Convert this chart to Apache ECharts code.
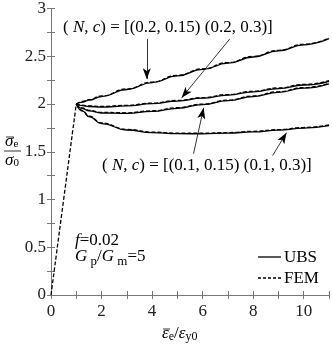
<!DOCTYPE html>
<html><head><meta charset="utf-8">
<script src="https://cdn.jsdelivr.net/npm/echarts@6/dist/echarts.min.js"></script>
<style>html,body{margin:0;padding:0;background:#fff}#c{width:332px;height:345px}</style>
</head><body><div id="c"></div>
<script>
// strain values (ε̄e/εy0)
const strainElastic = [0, 1];
const stressElastic = [0, 2.0];
const strain = [1, 1.25, 1.5, 2, 3, 4, 5, 6, 7, 8, 9, 10, 11];
// UBS (solid)
const ubsA = [2.0, 2.02, 2.04, 2.078, 2.152, 2.224, 2.294, 2.362, 2.428, 2.492, 2.556, 2.62, 2.684];
const ubsB = [2.0, 1.982, 1.974, 1.968, 1.98, 2.003, 2.031, 2.061, 2.093, 2.127, 2.162, 2.199, 2.238];
const ubsC = [2.0, 1.952, 1.928, 1.906, 1.902, 1.922, 1.955, 1.993, 2.035, 2.078, 2.122, 2.166, 2.21];
const ubsD = [2.0, 1.925, 1.868, 1.795, 1.728, 1.70, 1.689, 1.688, 1.695, 1.708, 1.726, 1.748, 1.774];
// FEM (dashed)
const femA = [2.0, 2.026, 2.046, 2.084, 2.158, 2.230, 2.300, 2.368, 2.434, 2.498, 2.562, 2.626, 2.690];
const femB = [2.0, 1.988, 1.980, 1.974, 1.986, 2.009, 2.037, 2.067, 2.099, 2.133, 2.168, 2.205, 2.244];
const femC = [2.0, 1.958, 1.934, 1.912, 1.908, 1.928, 1.961, 1.999, 2.041, 2.084, 2.128, 2.172, 2.216];
const femD = [2.0, 1.931, 1.874, 1.801, 1.734, 1.706, 1.695, 1.694, 1.701, 1.714, 1.732, 1.754, 1.780];
// arrows [xFrom, yFrom, xTo, yTo] in data units
const arrowsData = [
  [3.79, 2.68, 3.79, 2.26],
  [7.07, 2.68, 5.17, 2.065],
  [5.64, 1.48, 6.04, 1.96],
  [8.77, 1.46, 9.32, 1.70]
];
const xTicks = [0, 2, 4, 6, 8, 10];
const yTicks = [0, 0.5, 1, 1.5, 2, 2.5, 3];
const legendNames = ['UBS', 'FEM'];

const F = 'Liberation Serif';
const zip = (xs, ys) => xs.map((x, i) => [x, ys[i]]);
const solid = {color: '#000', width: 1.3, type: 'solid'};
const dashed = {color: '#000', width: 1.3, type: [4, 2]};
function mk(name, xs, ys, ls, z) {
  return {name, type: 'line', data: zip(xs, ys), symbol: 'none', smooth: 0.5, smoothMonotone: 'x',
    lineStyle: ls, itemStyle: {color: '#000'}, animation: false, z};
}
const series = [
  mk('FEM', strainElastic, stressElastic, dashed, 4),
  mk('UBS', strain, ubsA, solid, 3), mk('UBS', strain, ubsB, solid, 3),
  mk('UBS', strain, ubsC, solid, 3), mk('UBS', strain, ubsD, solid, 3),
  mk('FEM', strain, femA, dashed, 4), mk('FEM', strain, femB, dashed, 4),
  mk('FEM', strain, femC, dashed, 4), mk('FEM', strain, femD, dashed, 4),
  {type: 'line', data: [], silent: true, animation: false,
   markLine: {silent: true, symbol: ['none', 'arrow'], symbolSize: [6, 11], animation: false,
     lineStyle: {color: '#000', width: 0.8, type: 'solid'}, label: {show: false},
     data: arrowsData.map(a => [{coord: [a[0], a[1]]}, {coord: [a[2], a[3]]}])}}
];

const ax = {color: '#777', width: 1};
const it = {fontStyle: 'italic', fontFamily: F, fontSize: 17, fill: '#000'};
const chart = echarts.init(document.getElementById('c'));
chart.setOption({
  animation: false,
  grid: {left: 51, right: 2, top: 7, bottom: 50},
  xAxis: [
    {type: 'value', min: 0, max: 11, interval: 1, position: 'bottom',
     axisLine: {lineStyle: ax}, axisTick: {inside: true, length: 4, lineStyle: ax},
     splitLine: {show: false},
     axisLabel: {fontFamily: F, fontSize: 17, color: '#222', margin: 8,
       formatter: v => xTicks.includes(v) ? String(v) : ''}},
    {type: 'value', min: 0, max: 11, interval: 1, position: 'top',
     axisLine: {lineStyle: ax}, axisTick: {inside: true, length: 4, lineStyle: ax},
     splitLine: {show: false}, axisLabel: {show: false}}
  ],
  yAxis: [
    {type: 'value', min: 0, max: 3, interval: 0.25, position: 'left',
     axisLine: {lineStyle: ax}, axisTick: {inside: true, length: 4, lineStyle: ax},
     splitLine: {show: false},
     axisLabel: {fontFamily: F, fontSize: 17, color: '#222', margin: 5,
       formatter: v => yTicks.some(t => Math.abs(t - v) < 1e-9) ? String(v) : ''}},
    {type: 'value', min: 0, max: 3, interval: 0.25, position: 'right',
     axisLine: {lineStyle: ax}, axisTick: {inside: true, length: 4, lineStyle: ax},
     splitLine: {show: false}, axisLabel: {show: false}}
  ],
  graphic: [
    {type: 'text', left: 63, top: 19, style: {text: '( {i|N}, {i|c}) = [(0.2, 0.15) (0.2, 0.3)]',
      font: '17px "Liberation Serif"', fill: '#000', rich: {i: it}}},
    {type: 'text', left: 102, top: 157, style: {text: '( {i|N}, {i|c}) = [(0.1, 0.15) (0.1, 0.3)]',
      font: '17px "Liberation Serif"', fill: '#000', rich: {i: it}}},
    {type: 'text', left: 75, top: 232, style: {text: '{i|f}=0.02',
      font: '17px "Liberation Serif"', fill: '#000', rich: {i: it}}},
    {type: 'text', left: 75, top: 248, style: {text: '{i|G}{s| p}{n|/}{i|G}{s| m}{n|=5}',
      font: '17px "Liberation Serif"', fill: '#000',
      rich: {i: it, n: {fontFamily: F, fontSize: 17, fill: '#000'},
             s: {fontFamily: F, fontSize: 13, padding: [10, 0, 0, 0], fill: '#000'}}}},
    // legend
    {type: 'line', shape: {x1: 258, y1: 257, x2: 281, y2: 257}, style: {stroke: '#000', lineWidth: 1.3}},
    {type: 'text', left: 284, top: 249, style: {text: legendNames[0], font: '17px "Liberation Serif"', fill: '#000'}},
    {type: 'line', shape: {x1: 258, y1: 278, x2: 281, y2: 278}, style: {stroke: '#000', lineWidth: 1.3, lineDash: [3, 2]}},
    {type: 'text', left: 284, top: 270, style: {text: legendNames[1], font: '17px "Liberation Serif"', fill: '#000'}},
    // y axis label (fraction)
    {type: 'text', left: 5, top: 133, style: {text: '{i|σ}{s|e}',
      rich: {i: it, s: {fontFamily: F, fontSize: 11, padding: [6, 0, 0, 0], fill: '#000'}}}},
    {type: 'line', shape: {x1: 6, y1: 137, x2: 14, y2: 137}, style: {stroke: '#000', lineWidth: 0.8}},
    {type: 'line', shape: {x1: 4, y1: 151, x2: 21, y2: 151}, style: {stroke: '#000', lineWidth: 0.8}},
    {type: 'text', left: 5, top: 152, style: {text: '{i|σ}{s|0}',
      rich: {i: it, s: {fontFamily: F, fontSize: 11, padding: [6, 0, 0, 0], fill: '#000'}}}},
    // x axis label
    {type: 'text', left: 162, top: 325, style: {text: '{i|ε}{s|e}{n|/}{i|ε}{s|y0}',
      rich: {i: it, n: {fontFamily: F, fontSize: 17, fill: '#000'},
             s: {fontFamily: F, fontSize: 12, padding: [7, 0, 0, 0], fill: '#000'}}}},
    {type: 'line', shape: {x1: 163, y1: 329, x2: 170, y2: 329}, style: {stroke: '#000', lineWidth: 0.8}}
  ],
  series
});
</script></body></html>
